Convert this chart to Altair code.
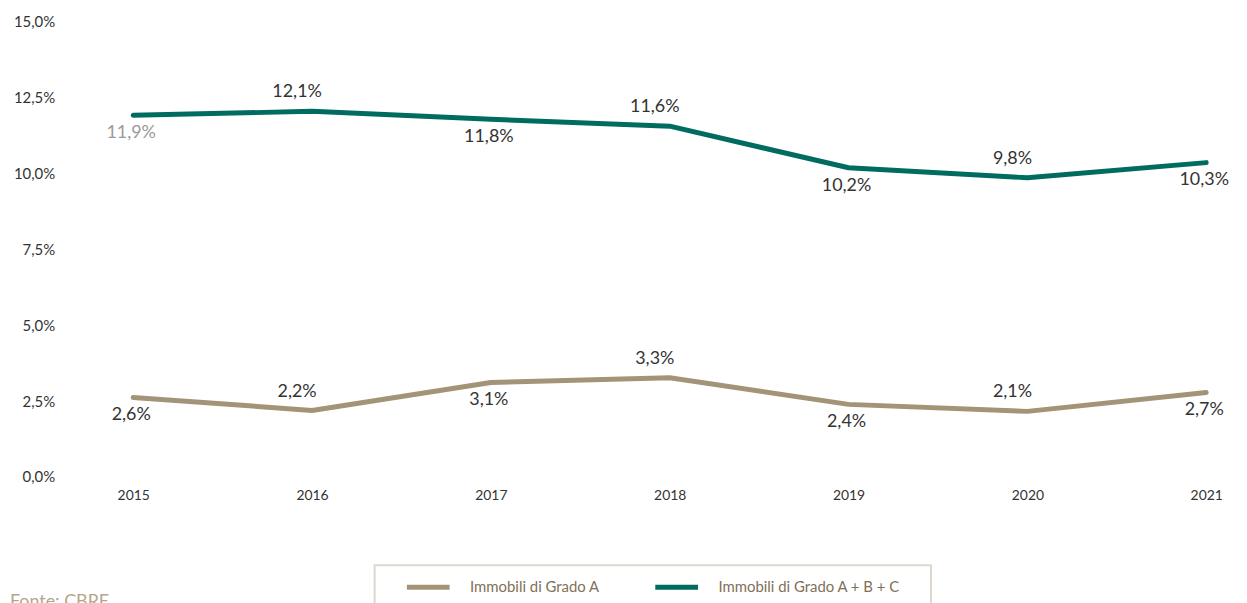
import altair as alt
import pandas as pd

years = [2015, 2016, 2017, 2018, 2019, 2020, 2021]
series_names = ["Immobili di Grado A", "Immobili di Grado A + B + C"]
grado_a = [2.62, 2.19, 3.11, 3.27, 2.39, 2.16, 2.78]
grado_a_labels = ["2,6%", "2,2%", "3,1%", "3,3%", "2,4%", "2,1%", "2,7%"]
grado_abc = [11.92, 12.05, 11.79, 11.56, 10.19, 9.86, 10.36]
grado_abc_labels = ["11,9%", "12,1%", "11,8%", "11,6%", "10,2%", "9,8%", "10,3%"]
label_pos = ["below", "above", "below", "above", "below", "above", "below"]
y_ticks = [0, 2.5, 5, 7.5, 10, 12.5, 15]
source_text = "Fonte: CBRE"

rows = []
for name, vals, labs in [(series_names[0], grado_a, grado_a_labels),
                         (series_names[1], grado_abc, grado_abc_labels)]:
    for yr, v, lb, p in zip(years, vals, labs, label_pos):
        rows.append({"year": yr, "series": name, "value": v, "label": lb, "pos": p})
df = pd.DataFrame(rows)

FONT = "Lato"
teal = "#006b5f"
tan = "#a39477"

x_enc = alt.X("year:O", scale=alt.Scale(type="point", padding=0),
              axis=alt.Axis(title=None, labelAngle=0, ticks=False, domain=False, grid=False,
                            labelPadding=12, labelFontSize=14, labelColor="#333333", labelFont=FONT))
y_enc = alt.Y("value:Q", scale=alt.Scale(domain=[0, 15], nice=False),
              axis=alt.Axis(title=None, values=y_ticks, ticks=False, domain=False, grid=False,
                            labelPadding=79, labelFontSize=15, labelColor="#333333", labelFont=FONT,
                            labelExpr="replace(format(datum.value, '.1f'), '.', ',') + '%'"))

base = alt.Chart(df)

lines = base.mark_line(strokeWidth=5, strokeCap="round", strokeJoin="round").encode(
    x=x_enc, y=y_enc,
    color=alt.Color("series:N",
                    scale=alt.Scale(domain=series_names, range=[tan, teal]),
                    legend=alt.Legend(title=None, orient="none", legendX=273, legendY=545,
                                      direction="horizontal", symbolType="stroke",
                                      symbolSize=1849, symbolStrokeWidth=5, labelOffset=18,
                                      columnPadding=45, labelFontSize=15, labelFont=FONT,
                                      labelLimit=400, labelColor="#7f7058")),
)

above = base.transform_filter(alt.datum.pos == "above").mark_text(
    dy=-19, dx=-15, fontSize=18, font=FONT, color="#333333").encode(
    x="year:O", y="value:Q", text="label:N")

below = base.transform_filter(alt.datum.pos == "below").mark_text(
    dy=18, dx=-2, fontSize=18, font=FONT).encode(
    x="year:O", y="value:Q", text="label:N",
    color=alt.condition((alt.datum.year == 2015) & (alt.datum.value > 10),
                        alt.value("#9a9a9a"), alt.value("#333333")))

box = alt.Chart(pd.DataFrame({"a": [0]})).mark_rect(
    fillOpacity=0, stroke="#ddd7cf", strokeWidth=2).encode(
    x=alt.value(243), x2=alt.value(803), y=alt.value(547), y2=alt.value(640))

src = alt.Chart(pd.DataFrame({"t": [source_text]})).mark_text(
    align="left", baseline="alphabetic", fontSize=18, font=FONT, color="#b3a68c").encode(
    x=alt.value(-124), y=alt.value(589), text="t:N")

chart = alt.layer(lines, above, below, box, src).resolve_scale(color="independent").properties(
    width=1080, height=458,
    autosize=alt.AutoSizeParams(type="none"),
    padding={"left": 126, "top": 12, "right": 33, "bottom": 125},
).configure_view(stroke=None)

chart.save("out.html", embed_options={"renderer": "svg", "actions": False})
